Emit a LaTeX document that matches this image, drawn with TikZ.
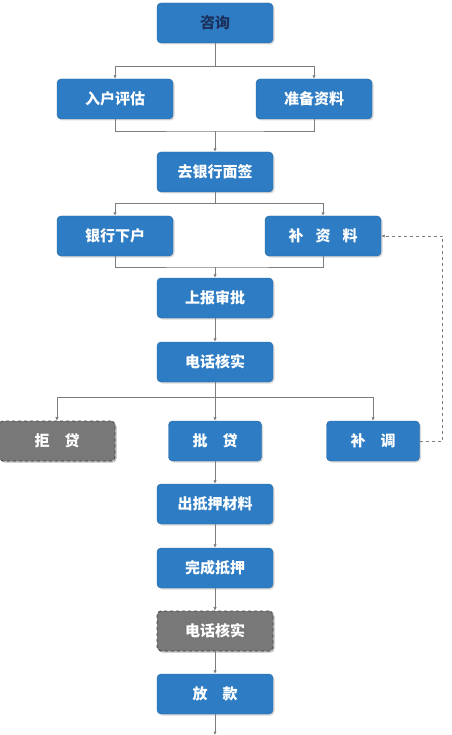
\documentclass[tikz,border=0pt]{standalone}
\usepackage{fontspec}
\newfontfamily\cjk{Noto Sans CJK SC}
\usetikzlibrary{arrows.meta,shadows}
\definecolor{boxblue}{RGB}{46,125,196}
\definecolor{boxgrey}{RGB}{120,120,120}
\definecolor{linegrey}{RGB}{125,125,125}
\definecolor{navy}{RGB}{28,48,92}

\begin{document}
\begin{tikzpicture}[x=1pt,y=-1pt,
  box/.style={rounded corners=4pt, fill=boxblue, draw=boxblue!80!black,
    minimum width=116pt, minimum height=40pt, inner sep=0pt, text=white,
    font=\cjk\bfseries\fontsize{15}{17}\selectfont,
    drop shadow={shadow xshift=1.5pt, shadow yshift=-1.5pt, opacity=0.3}},
  small/.style={box, minimum width=93pt},
  greybox/.style={box, fill=boxgrey, draw=black!75, dashed, line width=0.8pt},
  link/.style={draw=linegrey, line width=0.8pt},
  tip/.style={link, -{Latex[length=3.5pt,width=3.5pt]}}]
\useasboundingbox (0,0) rectangle (451,735);
\node[box,text=navy] (zx) at (215,23) {咨询};
\node[box] (rh) at (115,99) {入户评估};
\node[box] (zb) at (314,99) {准备资料};
\node[box] (mq) at (215,172) {去银行面签};
\node[box] (xh) at (115,236) {银行下户};
\node[box] (bz) at (323,236) {补\hspace{0.8em}资\hspace{0.8em}料};
\node[box] (sb) at (215,298) {上报审批};
\node[box] (dh) at (215,362) {电话核实};
\node[small,greybox] (jd) at (57,441) {拒\quad 贷};
\node[small] (pd) at (215,441) {批\quad 贷};
\node[small] (bt) at (373,441) {补\quad 调};
\node[box] (cd) at (215,504) {出抵押材料};
\node[box] (wc) at (215,568) {完成抵押};
\node[box,greybox] (hs) at (215,631) {电话核实};
\node[box] (fk) at (215,694) {放\quad 款};
\coordinate (j1) at (215,66);
\coordinate (j2) at (215,131);
\coordinate (j3) at (215,203);
\coordinate (j4) at (215,267);
\coordinate (j5) at (215,397);
\coordinate (end) at (215,735);
\draw[link] (zx.south) -- (j1);
\draw[tip] (j1) -| (rh.north);
\draw[tip] (j1) -| (zb.north);
\draw[link] (rh.south) |- (j2) -| (zb.south);
\draw[tip] (j2) -- (mq.north);
\draw[link] (mq.south) -- (j3);
\draw[tip] (j3) -| (xh.north);
\draw[tip] (j3) -| (bz.north);
\draw[link] (xh.south) |- (j4) -| (bz.south);
\draw[tip] (j4) -- (sb.north);
\draw[tip] (sb) -- (dh);
\draw[link] (dh.south) -- (j5);
\draw[tip] (j5) -| (jd.north);
\draw[tip] (j5) -- (pd.north);
\draw[tip] (j5) -| (bt.north);
\draw[tip,dashed] (bt.east) -- ++(23,0) |- (bz.east);
\draw[tip] (pd) -- (cd);
\draw[tip] (cd) -- (wc);
\draw[tip] (wc) -- (hs);
\draw[tip] (hs) -- (fk);
\draw[tip] (fk) -- (end);
\end{tikzpicture}
\end{document}
